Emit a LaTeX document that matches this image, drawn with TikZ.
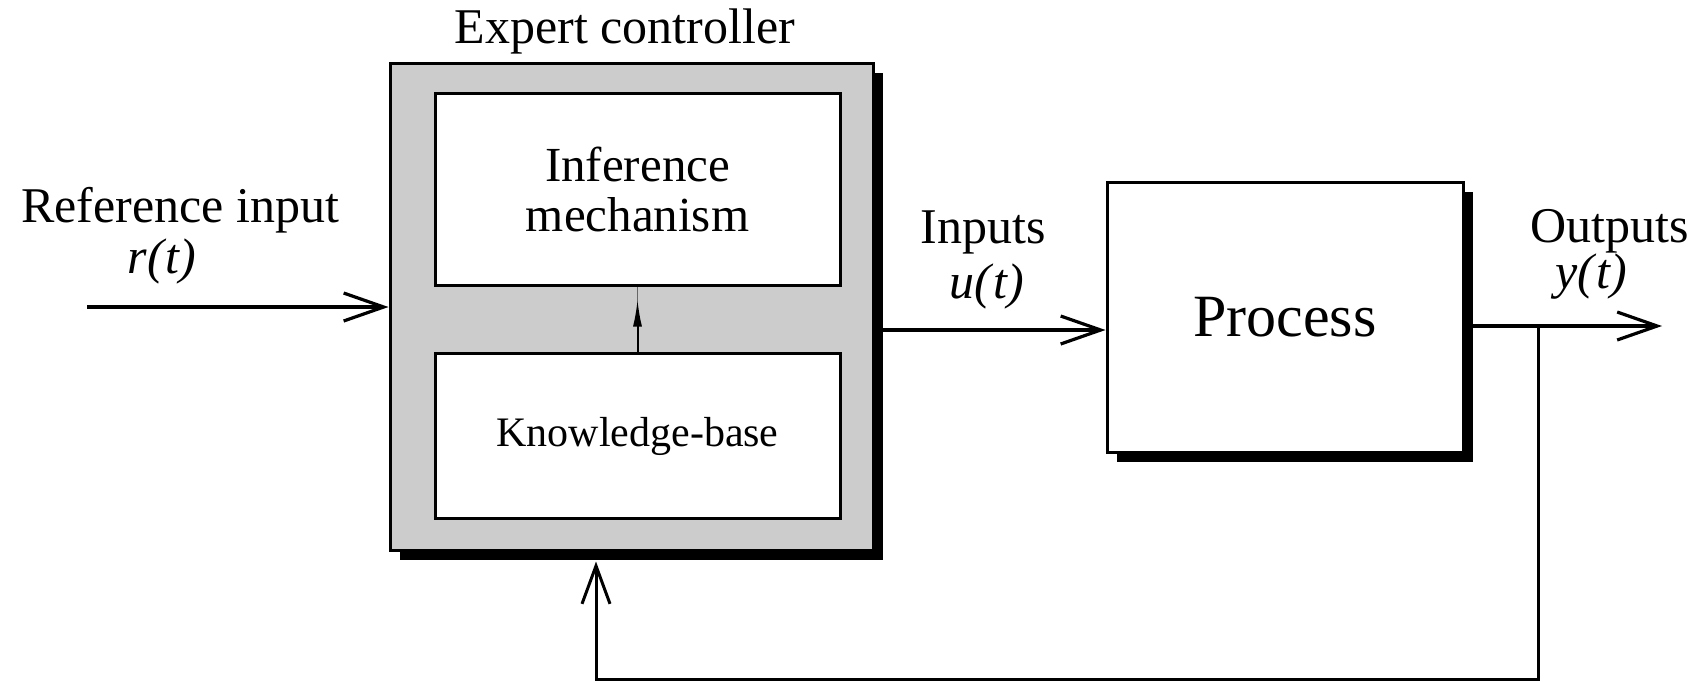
\documentclass[tikz,border=0pt]{standalone}
\usepackage{fontspec}
\setmainfont{Liberation Serif}
\usetikzlibrary{arrows.meta,shadows}
\begin{document}
\begin{tikzpicture}[x=0.5pt,y=-0.5pt,
  box/.style={draw, line width=1.5pt, inner sep=0pt},
  shade/.style={drop shadow={shadow xshift=5pt, shadow yshift=-5pt, fill=black, opacity=1}},
  lbl/.style={font=\fontsize{25}{25}\selectfont, inner sep=0pt, anchor=base},
  arr/.style={line width=1.6pt, -{Straight Barb[length=20pt,width=14pt]}},
  fbarr/.style={line width=1.5pt, -{Straight Barb[length=19pt,width=14pt]}}]
\useasboundingbox (0,0) rectangle (1700,682);
% blocks
\node[box, shade, fill=black!20, minimum width=241.5pt, minimum height=243.5pt] (ctrl) at (631.5,306.5) {};
\node[box, fill=white, minimum width=202.5pt, minimum height=96pt, align=center,
      font=\fontsize{24.5}{25}\selectfont] (inf) at (637.5,189) {Inference\\mechanism};
\node[box, fill=white, minimum width=202.5pt, minimum height=82.5pt,
      font=\fontsize{21}{25}\selectfont] (kb) at (637.5,436) {Knowledge-base};
\node[box, shade, fill=white, minimum width=178pt, minimum height=135pt,
      font=\fontsize{30}{36}\selectfont] (proc) at (1285,317) {Process};
% labels
\node[lbl] (title) at (625,43) {Expert controller};
\node[lbl] (reflbl) at (180,222) {Reference input};
\node[lbl] (rt) at (162,273) {\itshape r(\kern1pt t)};
\node[lbl] (inlbl) at (983,243) {Inputs};
\node[lbl] (ut) at (987,298) {\itshape u(\kern1pt t)};
\node[lbl] (outlbl) at (1610,242) {Outputs};
\node[lbl] (yt) at (1591,288) {\itshape y(\kern1pt t)};
% connectors
\coordinate (rin) at (87,307);
\draw[arr] (rin) -- (rin -| ctrl.west);
\draw[arr] ([yshift=-11.75pt]ctrl.east) -- ([yshift=-11.75pt]ctrl.east -| proc.west);
\coordinate (yout) at (1662,326);
\draw[arr] (proc.east |- yout) -- (yout);
\coordinate (br) at (1538,326);
\coordinate (fb) at (596,679);
\coordinate (cb) at ([yshift=-5pt]ctrl.south);
\draw[fbarr] (br) |- (fb) -- (fb |- cb);
% inner arrow
\draw[line width=0.6pt, black!60] (kb.north) -- (inf.south);
\draw[line width=1pt, -{Latex[length=13.5pt,width=4.5pt]}, shorten >=6.5pt] (kb.north) -- (inf.south);
\end{tikzpicture}
\end{document}
